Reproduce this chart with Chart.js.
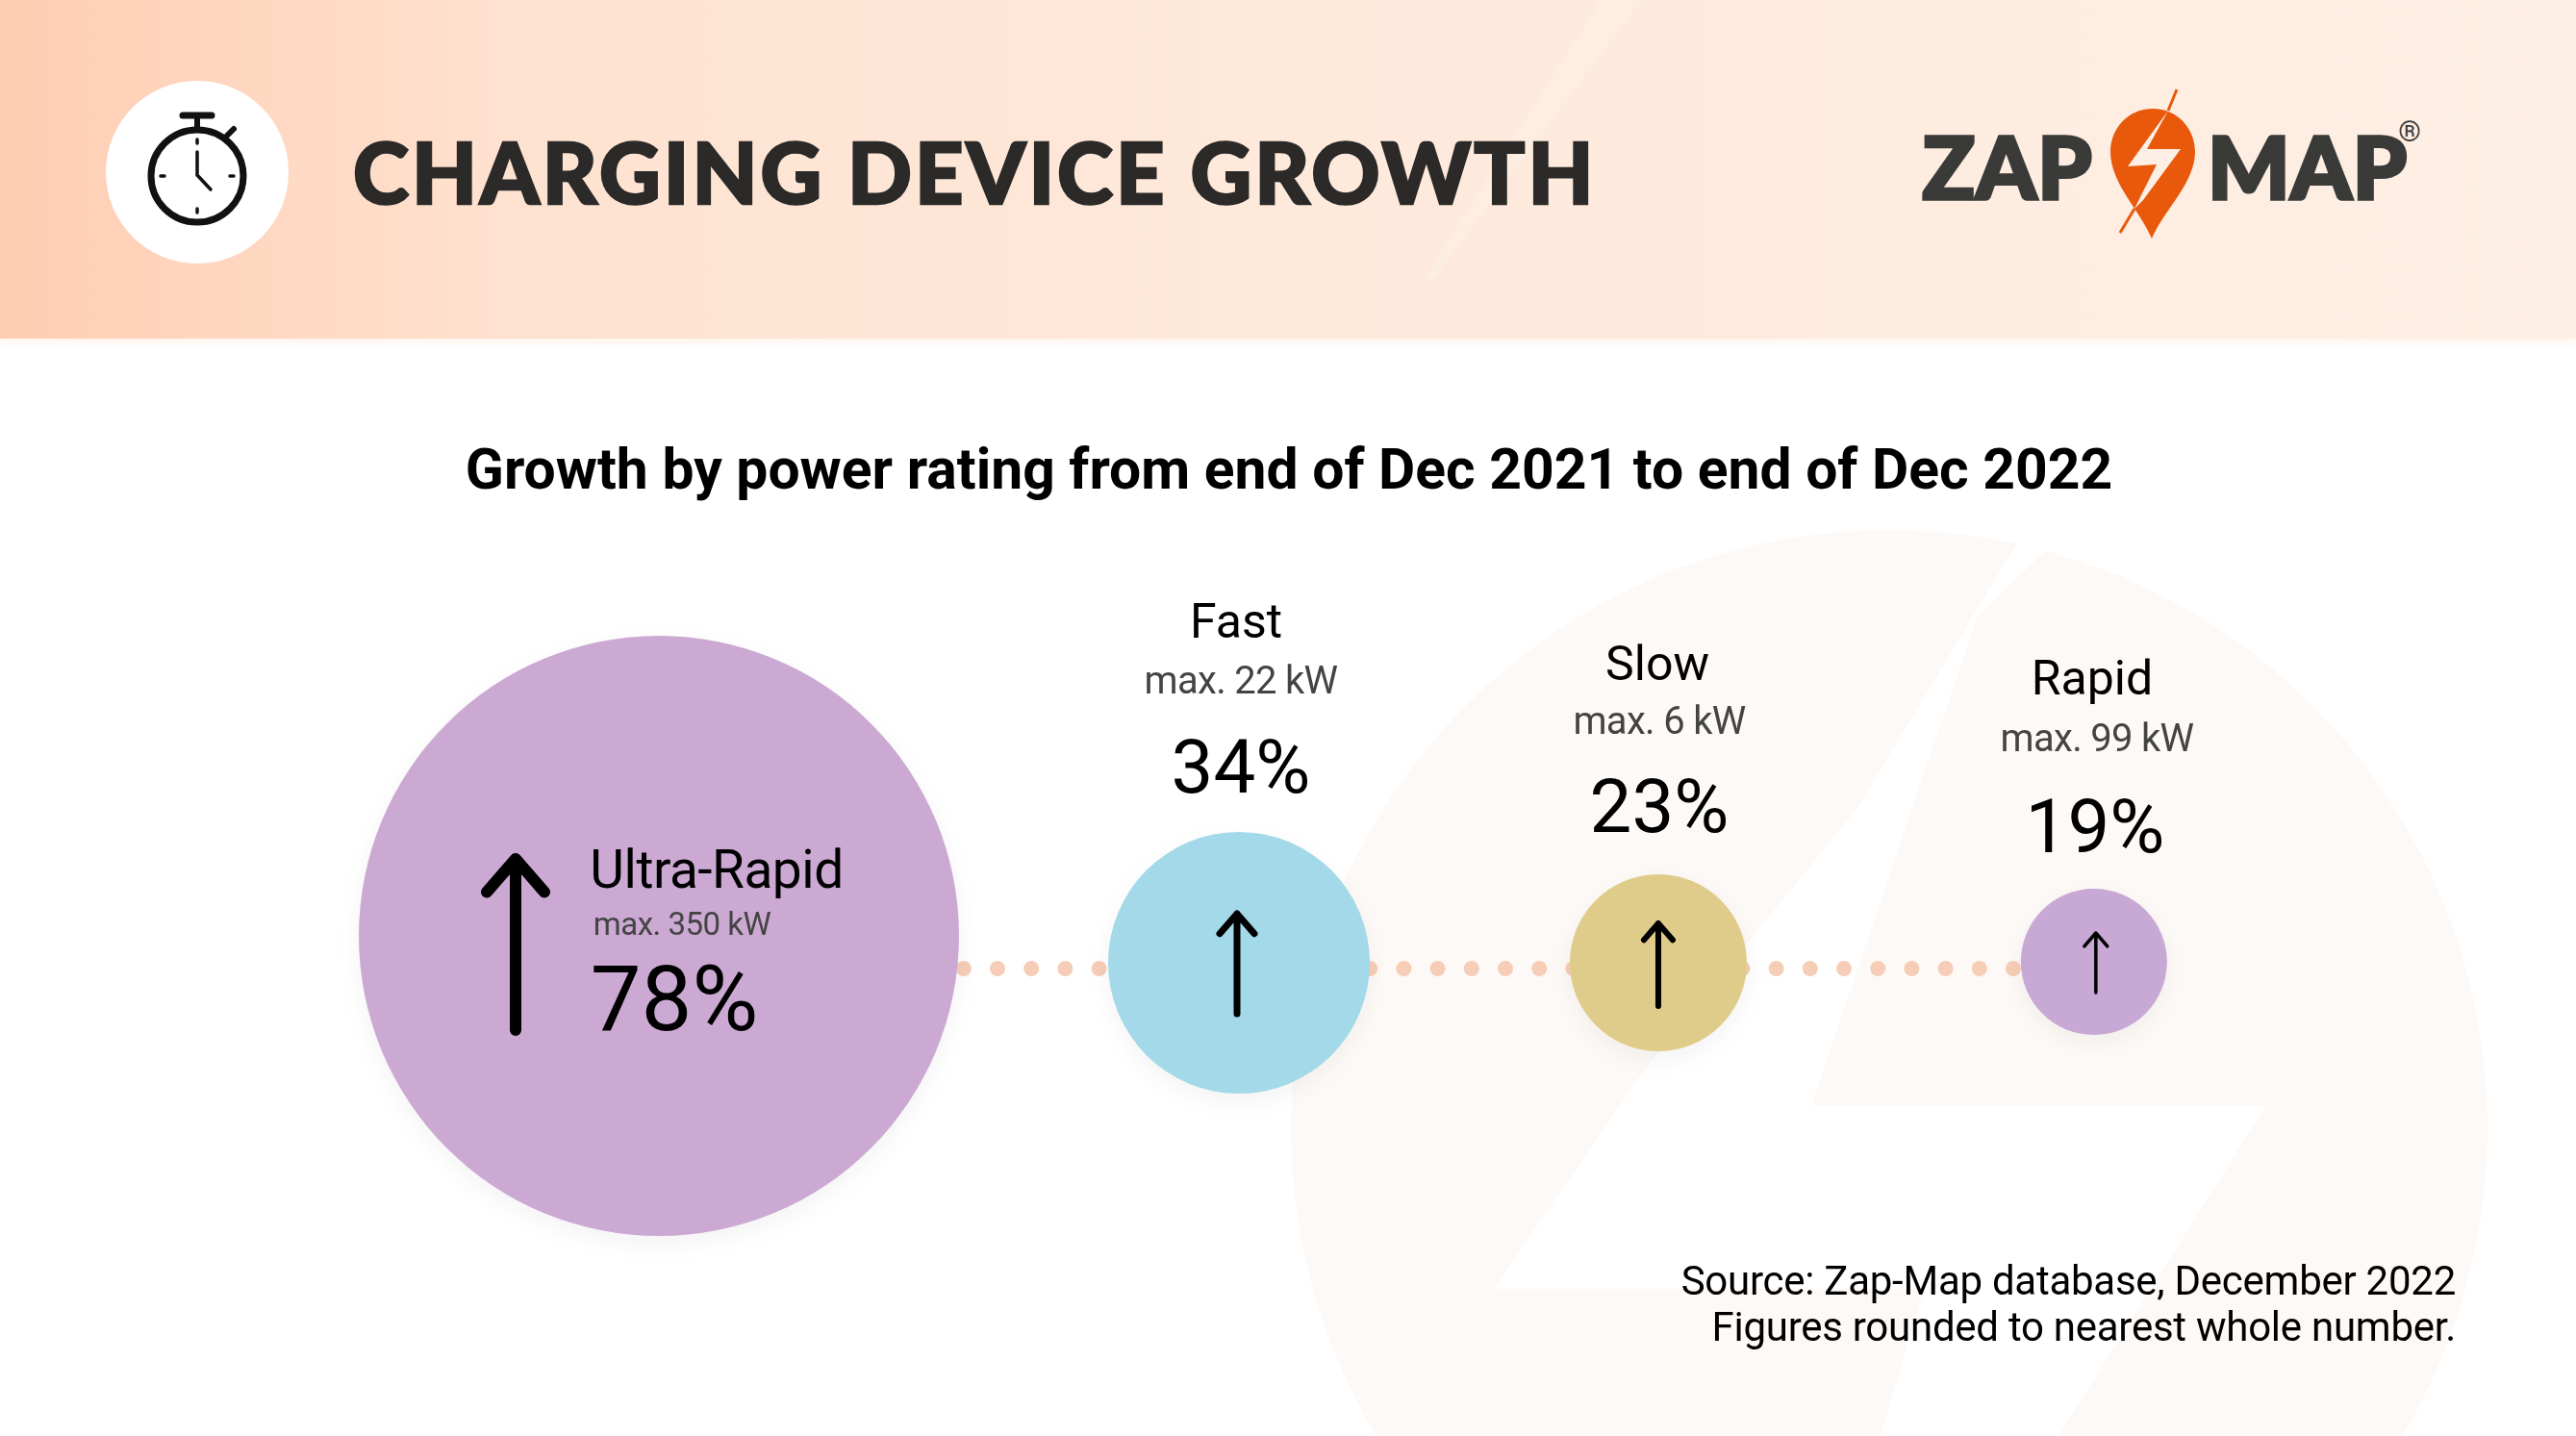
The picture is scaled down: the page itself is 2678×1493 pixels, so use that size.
<!DOCTYPE html>
<html>
<head>
<meta charset="utf-8">
<title>Charging device growth</title>
<script src="https://cdn.jsdelivr.net/npm/chart.js@4"></script>
<style>
  html, body { margin: 0; padding: 0; background: #fff; }
  #page { position: relative; width: 2678px; height: 1493px; overflow: hidden; font-family: Roboto, sans-serif; color: #000; }
  #band { position: absolute; left: 0; top: 0; width: 2678px; height: 352px;
    background: linear-gradient(90deg, #ffcdb2 0%, #fee2d0 20%, #fee9db 50%, #feefe4 100%);
    box-shadow: 0 4px 8px rgba(255, 240, 230, .8); }
  #art, #chartBox { position: absolute; left: 0; top: 0; }
  #chartBox { width: 2678px; height: 1493px; }
  .txt { position: absolute; white-space: nowrap; transform: translate(-50%, -50%); line-height: 1; }
  #title { left: 367px; top: 178px; transform: translateY(-50%); font: 900 88px Lato, sans-serif; color: #2b2a29; letter-spacing: 3px; -webkit-text-stroke: 2.5px #2b2a29; }
  #subtitle { left: 1340px; top: 488px; font-size: 58.8px; font-weight: 700; }
  .logo { font: 900 90px Lato, sans-serif; color: #3a3a39; -webkit-text-stroke: 3.5px #3a3a39; letter-spacing: 1px; }
  .name { font-size: 50px; }
  .max { font-size: 40px; color: #444; letter-spacing: -.7px; }
  .pct { font-size: 78px; }
  #source { position: absolute; right: 125px; top: 1308px; text-align: right; font-size: 42px; line-height: 48px; white-space: nowrap; letter-spacing: -.26px; }
</style>
</head>
<body>
<div id="page">
  <svg id="art" width="2678" height="1493" viewBox="0 0 2678 1493">
    <!-- faint pin shape behind the chart -->
    <circle cx="1964" cy="1173" r="622" fill="#fdf9f6"/>
    <polygon points="2270,367 2125,574 2056,640 1883,1149 2356,1149 2140,1493 1955,1493 2000,1340 1553,1340 1711,1110 1931,840 2104,553" fill="#fff"/>
  </svg>
  <div id="band"></div>
  <svg id="head" style="position:absolute;left:0;top:0" width="2678" height="352" viewBox="0 0 2678 352">
    <polygon points="1664,0 1707,0 1490,290 1480,290" fill="#fff" opacity=".14"/>
    <!-- stopwatch -->
    <circle cx="205" cy="179" r="95" fill="#fff"/>
    <g fill="none" stroke="#111" stroke-linecap="round">
      <circle cx="205" cy="183" r="48" stroke-width="7"/>
      <path d="M190 120H220" stroke-width="7"/>
      <path d="M205 122V134" stroke-width="6"/>
      <path d="M236 141L243 134" stroke-width="6"/>
      <path d="M205 158V182L219 197" stroke-width="3.5"/>
      <path d="M205 145V149M205 217V221M167 183H171M239 183H243" stroke-width="3.5"/>
    </g>
    <!-- logo pin -->
    <path d="M2238 113C2212 113 2194 134 2194 158C2194 190 2224 218 2237 248C2250 218 2282 190 2282 158C2282 134 2264 113 2238 113Z" fill="#e8590c"/>
    <polygon points="2254,115 2232,155 2267,155 2228,208 2219,217 2242,171 2212,173" fill="#feefe4"/>
    <path d="M2263 93L2254 115M2219 217L2204 242" stroke="#e8590c" stroke-width="3" fill="none"/>
  </svg>
  <div id="title" class="txt"></div>
  <div id="zap" class="txt logo" style="left:2087px;top:172px"></div>
  <div id="map" class="txt logo" style="left:2399px;top:172px"></div>
  <div id="reg" class="txt" style="left:2505px;top:137px;font-size:30px;color:#3a3a39"></div>
  <div id="subtitle" class="txt"></div>
  <div id="chartBox"><canvas id="myChart" width="2678" height="1493"></canvas></div>
  <div id="labels"></div>
  <div id="source"></div>
</div>

<script>
"use strict";
const categories = ["Ultra-Rapid", "Fast", "Slow", "Rapid"];
const maxPower = ["max. 350 kW", "max. 22 kW", "max. 6 kW", "max. 99 kW"];
const growth = [78, 34, 23, 19];

// where each bubble sits on the hidden axes
const slotX = [1, 2, 2.723, 3.474];
const slotY = [8.5, 1.5, 1.5, 1.75];
const bubbleColors = ["#cba9d3", "#a3d9e8", "#e0cc8a", "#c8a8d4"];
const pxPerPercent = 4;

// arrows inside the bubbles: dx from centre, half length, head size, stroke
const arrowDx = [-149, -2, 0, 2];
const arrowDy = [9, 1, 2, 1];
const arrowLen = [89, 52, 43, 31];
const arrowHead = [30, 18, 15, 12];
const arrowStroke = [12, 7, 6, 3.5];

// label centres [x, y]
const nameAt = [[745, 904], [1285, 646], [1723, 690], [2175, 705]];
const maxAt = [[709, 960], [1290, 708], [1725, 750], [2180, 768]];
const pctAt = [[701, 1039], [1290, 798], [1725, 839], [2178, 860]];

document.getElementById("title").textContent = "CHARGING DEVICE GROWTH";
document.getElementById("subtitle").textContent = "Growth by power rating from end of Dec 2021 to end of Dec 2022";
document.getElementById("zap").textContent = "ZAP";
document.getElementById("map").textContent = "MAP";
document.getElementById("reg").textContent = "®";
document.getElementById("source").innerHTML = "Source: Zap-Map database, December 2022<br>Figures rounded to nearest whole number.";

function addLabel(text, cls, at, extra) {
  let el = document.createElement("div");
  el.className = "txt " + cls;
  el.textContent = text;
  el.style.left = at[0] + "px";
  el.style.top = at[1] + "px";
  if (extra) el.style.cssText += extra;
  document.getElementById("labels").appendChild(el);
}

categories.forEach((name, i) => {
  // the big bubble has its own text sizes
  addLabel(name, "name", nameAt[i], i === 0 ? "font-size:55px;letter-spacing:-.5px" : "");
  addLabel(maxPower[i], "max", maxAt[i], i === 0 ? "font-size:33px;letter-spacing:-.5px" : "");
  addLabel(growth[i] + "%", "pct", pctAt[i], i === 0 ? "font-size:94px" : "");
});

const bubbleShadow = {
  id: "bubbleShadow",
  beforeDatasetDraw(chart, args) {
    if (args.index !== 1) return;
    chart.ctx.save();
    chart.ctx.shadowColor = "rgba(0,0,0,0.05)";
    chart.ctx.shadowBlur = 26;
    chart.ctx.shadowOffsetY = 8;
  },
  afterDatasetDraw(chart, args) {
    if (args.index === 1) chart.ctx.restore();
  },
};

const arrows = {
  id: "arrows",
  afterDatasetsDraw(chart) {
    const ctx = chart.ctx;
    const pts = chart.getDatasetMeta(1).data;
    pts.forEach((pt, i) => {
      const x = pt.x + arrowDx[i];
      const y = pt.y + arrowDy[i];
      const top = y - arrowLen[i];
      ctx.save();
      ctx.strokeStyle = "#000";
      ctx.lineWidth = arrowStroke[i];
      ctx.lineCap = "round";
      ctx.lineJoin = "round";
      ctx.beginPath();
      ctx.moveTo(x, y + arrowLen[i]);
      ctx.lineTo(x, top);
      ctx.moveTo(x - arrowHead[i], top + arrowHead[i] * 1.15);
      ctx.lineTo(x, top);
      ctx.lineTo(x + arrowHead[i], top + arrowHead[i] * 1.15);
      ctx.stroke();
      ctx.restore();
    });
  },
};

new Chart(document.getElementById("myChart"), {
  type: "bubble",
  data: {
    labels: categories,
    datasets: [
      {
        // dotted connector, drawn under the bubbles
        type: "line",
        data: [
          { x: slotX[0], y: 0 },
          { x: slotX[3], y: 0 },
        ],
        borderColor: "#f6cdb6",
        borderWidth: 16,
        borderCapStyle: "round",
        borderDash: [0.01, 35.19],
        pointRadius: 0,
        order: 2,
        clip: false,
      },
      {
        label: "Growth",
        data: growth.map((g, i) => ({ x: slotX[i], y: slotY[i], r: g * pxPerPercent })),
        backgroundColor: bubbleColors,
        borderWidth: 0,
        hoverRadius: 0,
        order: 1,
        clip: false,
      },
    ],
  },
  options: {
    responsive: false,
    animation: false,
    // the bubble type pads the axes for big radii by default, which would shift the slots
    layout: { autoPadding: false, padding: { left: 82, right: 184, top: 607, bottom: 86 } },
    plugins: { legend: { display: false }, tooltip: { enabled: false } },
    scales: {
      x: { type: "linear", min: 0, max: 4, display: false },
      y: { type: "linear", min: -100, max: 100, display: false },
    },
  },
  plugins: [bubbleShadow, arrows],
});
</script>
</body>
</html>
